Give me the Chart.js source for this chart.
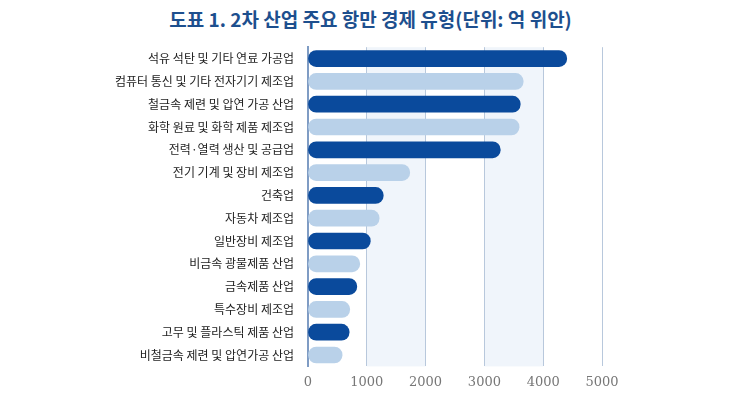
<!DOCTYPE html>
<html>
<head>
<meta charset="utf-8">
<script src="https://cdn.jsdelivr.net/npm/chart.js@4"></script>
<style>
  body { margin: 0; background: #fff; }
  #title { position: absolute; top: 5px; left: 0; width: 741px; height: 40px; line-height: 40px; text-align: center; font: bold 19px "Noto Sans CJK KR", sans-serif; color: #1d4f8e; }
  #wrap { position: absolute; top: 34px; left: 0; width: 741px; height: 371px; }
</style>
</head>
<body>
<div id="title">도표 1. 2차 산업 주요 항만 경제 유형(단위: 억 위안)</div>
<div id="wrap"><canvas id="c"></canvas></div>
<script>
const industries = [
  '석유 석탄 및 기타 연료 가공업',
  '컴퓨터 통신 및 기타 전자기기 제조업',
  '철금속 제련 및 압연 가공 산업',
  '화학 원료 및 화학 제품 제조업',
  '전력·열력 생산 및 공급업',
  '전기 기계 및 장비 제조업',
  '건축업',
  '자동차 제조업',
  '일반장비 제조업',
  '비금속 광물제품 산업',
  '금속제품 산업',
  '특수장비 제조업',
  '고무 및 플라스틱 제품 산업',
  '비철금속 제련 및 압연가공 산업'
];
const values = [4400, 3660, 3610, 3590, 3270, 1730, 1280, 1210, 1060, 880, 830, 710, 700, 580];
const xTicks = [0, 1000, 2000, 3000, 4000, 5000];

const darkBlue = '#0a4a9c';
const lightBlue = '#b9d1e9';
const barColors = values.map((v, i) => i % 2 === 0 ? darkBlue : lightBlue);

// shaded bands between 1000-2000 and 3000-4000
const bands = {
  id: 'bands',
  beforeDraw(chart) {
    const { ctx, chartArea, scales } = chart;
    ctx.save();
    ctx.fillStyle = '#f0f5fb';
    [[1000, 2000], [3000, 4000]].forEach(([a, b]) => {
      const x1 = scales.x.getPixelForValue(a);
      const x2 = scales.x.getPixelForValue(b);
      ctx.fillRect(x1, chartArea.top, x2 - x1, chartArea.bottom - chartArea.top);
    });
    ctx.restore();
  }
};

new Chart(document.getElementById('c'), {
  type: 'bar',
  data: {
    labels: industries,
    datasets: [{
      data: values,
      backgroundColor: barColors,
      barThickness: 16,
      borderRadius: 8,
      borderSkipped: false
    }]
  },
  options: {
    indexAxis: 'y',
    responsive: true,
    maintainAspectRatio: false,
    animation: false,
    layout: { padding: { top: 2, right: 139, bottom: 7, left: 0 } },
    plugins: { legend: { display: false }, tooltip: { enabled: false } },
    scales: {
      x: {
        min: 0,
        max: 5000,
        afterBuildTicks(axis) { axis.ticks = xTicks.map(v => ({ value: v })); },
        grid: { color: '#b8c8dc', drawTicks: false },
        border: { display: false },
        ticks: { color: '#777', padding: 8, font: { family: 'DejaVu Serif', size: 13 }, callback: v => String(v) }
      },
      y: {
        afterFit(axis) { axis.width = 308; },
        grid: { display: false },
        border: { color: '#7f9cc4', width: 2 },
        ticks: { color: '#222', padding: 6, font: { family: 'Noto Sans CJK KR', size: 12 } }
      }
    }
  },
  plugins: [bands]
});
</script>
</body>
</html>
